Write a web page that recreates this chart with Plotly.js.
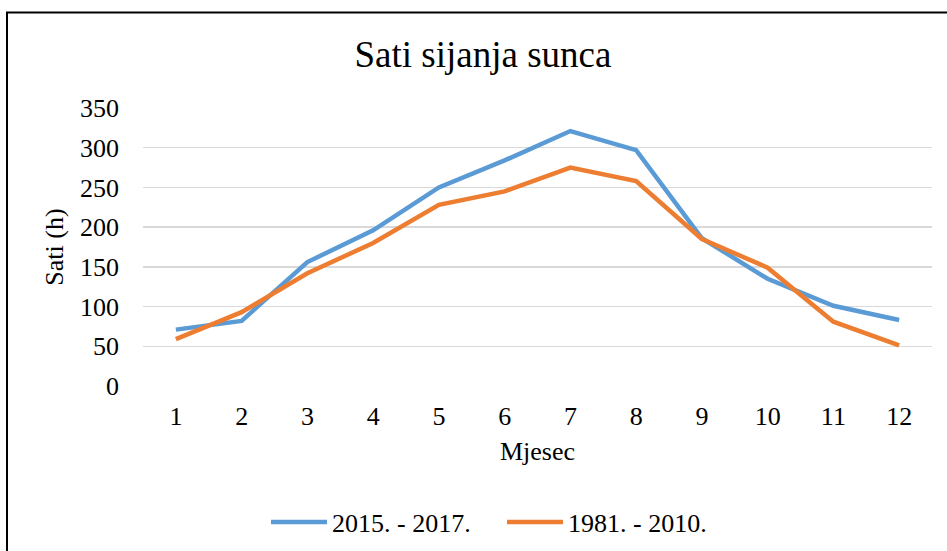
<!DOCTYPE html>
<html>
<head>
<meta charset="utf-8">
<script src="https://cdn.plot.ly/plotly-3.0.1.min.js"></script>
<style>
html,body{margin:0;padding:0;background:#fff;}
#chart{width:947px;height:551px;}
</style>
</head>
<body>
<div id="chart"></div>
<script>
const months = ['1','2','3','4','5','6','7','8','9','10','11','12'];
const series1Name = '2015. - 2017.';
const series1 = [71, 82, 156, 196, 250, 284, 321, 297, 186, 135, 101, 83];
const series2Name = '1981. - 2010.';
const series2 = [59, 93, 142, 180, 228, 245, 275, 258, 185, 149, 81, 51];
const yTicks = [0, 50, 100, 150, 200, 250, 300, 350];

const font = 'Liberation Serif';
const fs = 26;
const L = 143, R = 15, T = 108, B = 165;
const pw = 947 - L - R, ph = 551 - T - B;

const traces = [
  {x: months, y: series1, name: series1Name, type: 'scatter', mode: 'lines',
   line: {color: '#5B9BD5', width: 4.5}},
  {x: months, y: series2, name: series2Name, type: 'scatter', mode: 'lines',
   line: {color: '#ED7D31', width: 4.5}}
];

const layout = {
  width: 947, height: 551,
  margin: {l: L, r: R, t: T, b: B, pad: 0, autoexpand: false},
  paper_bgcolor: '#fff', plot_bgcolor: '#fff',
  font: {family: font, size: fs, color: '#000'},
  title: {text: 'Sati sijanja sunca', font: {family: font, size: 37, color: '#000'},
          x: 0.51, xanchor: 'center', yref: 'container', y: 1 - 54/551, yanchor: 'middle'},
  xaxis: {type: 'category', range: [-0.5, 11.5], showgrid: false, zeroline: false, showline: false,
          ticks: '', ticklabelstandoff: 12,
          tickfont: {family: font, size: fs, color: '#000'},
          title: {text: 'Mjesec', font: {family: font, size: fs, color: '#000'}, standoff: 11}},
  yaxis: {range: [0, 350], tickvals: yTicks, showgrid: true, gridcolor: '#D9D9D9', gridwidth: 1.3,
          zeroline: false, showline: false, ticks: '', ticklabelstandoff: 23,
          tickfont: {family: font, size: fs, color: '#000'},
          title: {text: 'Sati (h)', font: {family: font, size: fs, color: '#000'}, standoff: 8}},
  showlegend: true,
  legend: {orientation: 'h', x: (266 - L) / pw, xanchor: 'left', y: (T + ph - 522) / ph, yanchor: 'middle',
           font: {family: font, size: fs, color: '#000'}, itemwidth: 56, entrywidth: 165, tracegroupgap: 0,
           bgcolor: 'rgba(0,0,0,0)'},
  shapes: [{type: 'rect', xref: 'paper', yref: 'paper',
            x0: (7 - L) / pw, x1: (960 - L) / pw,
            y0: (T + ph - 570) / ph, y1: (T + ph - 12.5) / ph,
            line: {color: '#000', width: 2}, fillcolor: 'rgba(0,0,0,0)', layer: 'below'}]
};

Plotly.newPlot('chart', traces, layout, {displayModeBar: false, staticPlot: true});
</script>
</body>
</html>
